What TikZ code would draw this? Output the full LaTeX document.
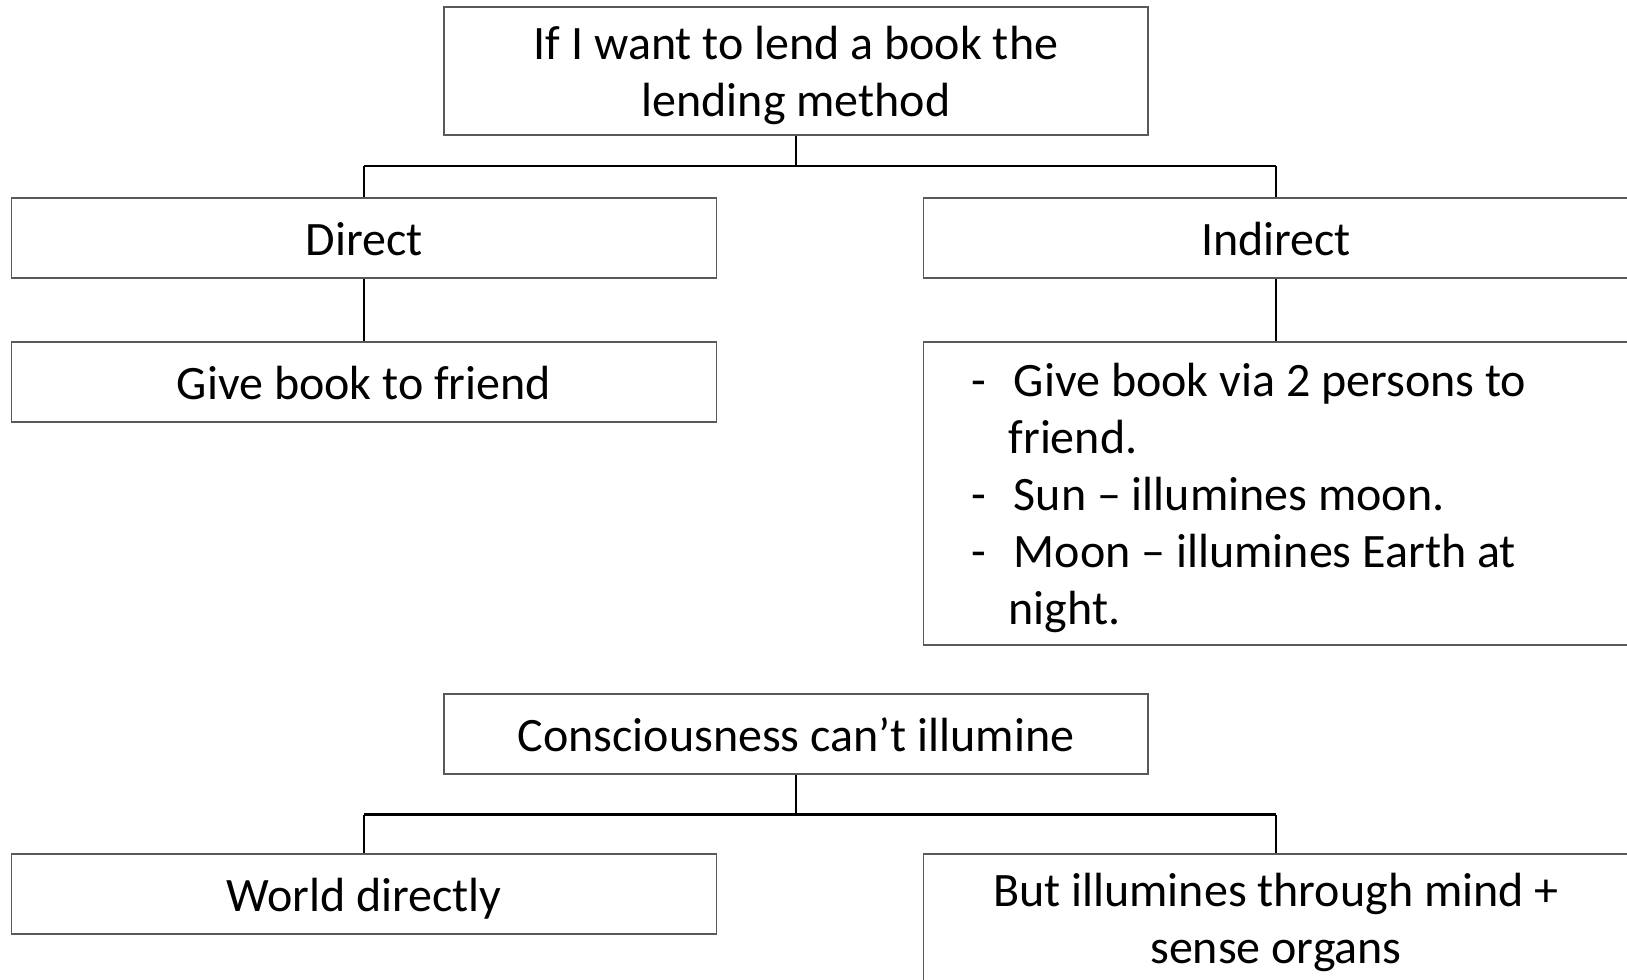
\documentclass[tikz,border=0pt]{standalone}
\usepackage{fontspec}
\setmainfont{Carlito}
\definecolor{boxgray}{HTML}{595959}
% line strut: fixed height/depth so every text line sits the same way
\newcommand{\lnstrut}{\rule[-8.6pt]{0pt}{42.75pt}}
\begin{document}
\begin{tikzpicture}[x=0.75pt,y=-0.75pt,
  txt/.style={inner sep=0pt, font=\fontsize{36}{42.75}\selectfont},
  box/.style={txt, draw=boxgray, line width=1.3pt, fill=white,
    align=center, minimum width=528.75pt, minimum height=60pt},
  tallbox/.style={box, minimum height=96pt},
  link/.style={draw=black, line width=1pt},
  bar/.style={draw=black, line width=1.8pt}
]
\useasboundingbox (0,0) rectangle (1627,979);
\fill[white] (0,0) rectangle (1627,979);
\clip (0,0) rectangle (1627,979);

% first tree: lending a book
\node[tallbox, minimum width=528pt] (lend) at (796,71)
  {\lnstrut If I want to lend a book the\\\lnstrut lending method};
\node[box] (direct) at (364,238) {\lnstrut Direct};
\node[box] (indirect) at (1276,238) {\lnstrut Indirect};
\node[box] (give) at (364,382) {\lnstrut Give book to friend};
\node[box, minimum height=227.25pt] (ways) at (1276,493.5) {};
\node[txt, align=left, anchor=west] (waystext) at (971,493.5)
  {\lnstrut\makebox[32pt][l]{-}Give book via 2 persons to\\
   \lnstrut\hspace*{28pt}friend.\\
   \lnstrut\makebox[32pt][l]{-}Sun -- illumines moon.\\
   \lnstrut\makebox[32pt][l]{-}Moon -- illumines Earth at\\
   \lnstrut\hspace*{28pt}night.};

\coordinate (j1) at (796,166);
\draw[link] (lend.south) -- (j1);
\draw[bar] (direct.north |- j1) -- (indirect.north |- j1);
\draw[link] (direct.north) -- (direct.north |- j1);
\draw[link] (indirect.north) -- (indirect.north |- j1);
\draw[link] (direct.south) -- (give.north);
\draw[link] (indirect.south) -- (ways.north);

% second tree: consciousness
\node[box, minimum width=528pt] (cons) at (796,734)
  {\lnstrut Consciousness can’t illumine};
\node[box] (world) at (364,894) {\lnstrut World directly};
\node[tallbox] (mind) at (1276,918)
  {\lnstrut But illumines through mind +\\\lnstrut sense organs};

\coordinate (j2) at (796,814.5);
\draw[link] (cons.south) -- (j2);
\draw[bar] (world.north |- j2) -- (mind.north |- j2);
\draw[link] (world.north) -- (world.north |- j2);
\draw[link] (mind.north) -- (mind.north |- j2);
\end{tikzpicture}
\end{document}
